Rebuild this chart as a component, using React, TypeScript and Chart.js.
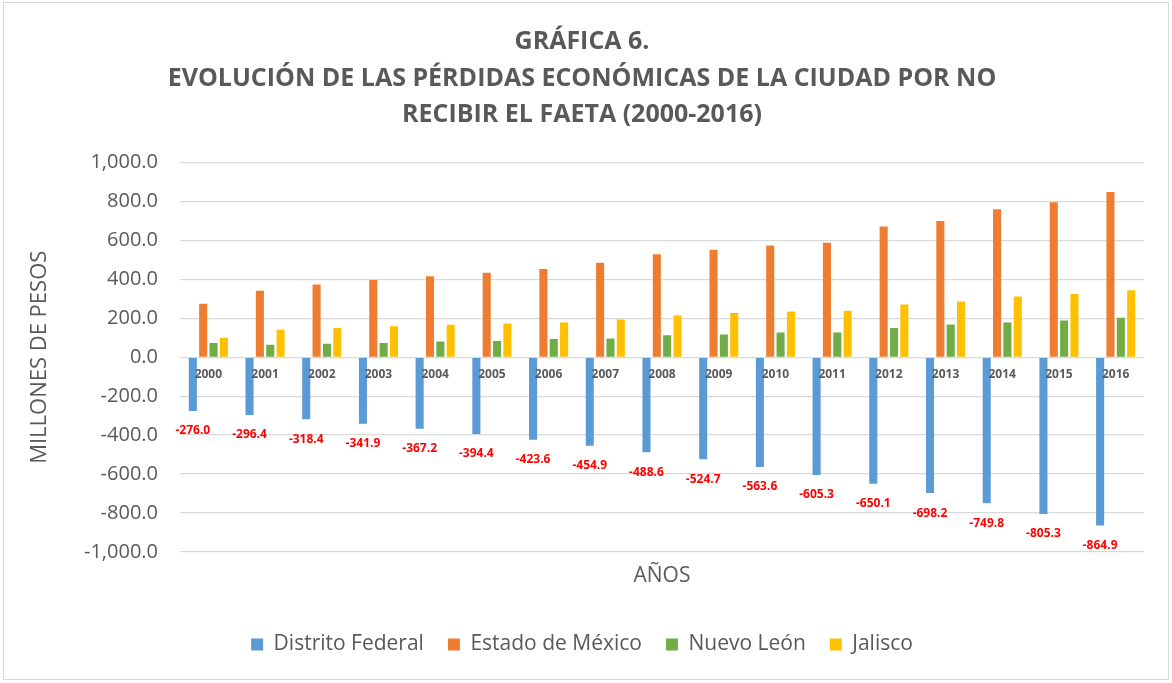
import React, { useEffect, useRef } from "react";
import { Chart, registerables } from "chart.js";

Chart.register(...registerables);

const years = ["2000","2001","2002","2003","2004","2005","2006","2007","2008","2009","2010","2011","2012","2013","2014","2015","2016"];
const distritoFederal = [-276.0,-296.4,-318.4,-341.9,-367.2,-394.4,-423.6,-454.9,-488.6,-524.7,-563.6,-605.3,-650.1,-698.2,-749.8,-805.3,-864.9];
const estadoDeMexico = [275,342,374,397,417,435,454,486,529,553,575,589,672,701,761,797,849];
const nuevoLeon = [74,64,70,74,81,84,94,96,113,117,127,127,150,168,179,189,203];
const jalisco = [100,141,150,160,167,174,179,194,215,228,235,239,271,287,313,325,344];

const seriesNames = ["Distrito Federal", "Estado de México", "Nuevo León", "Jalisco"];
const seriesColors = ["#5B9BD5", "#ED7D31", "#70AD47", "#FFC000"];
const titleLines = ["GRÁFICA 6.", "EVOLUCIÓN DE LAS PÉRDIDAS ECONÓMICAS DE LA CIUDAD POR NO", "RECIBIR EL FAETA (2000-2016)"];

const FONT = "'Open Sans', sans-serif";
const GRAY = "#595959";

const fmt = (v: number) =>
  v.toLocaleString("en-US", { minimumFractionDigits: 1, maximumFractionDigits: 1 });

const framePlugin = {
  id: "frame",
  beforeDraw(chart: any) {
    const { ctx, width, height } = chart;
    ctx.save();
    ctx.fillStyle = "#ffffff";
    ctx.fillRect(0, 0, width, height);
    ctx.strokeStyle = "#d9d9d9";
    ctx.lineWidth = 1;
    ctx.strokeRect(3.5, 2.5, width - 7, height - 6);
    ctx.restore();
  },
};

const labelsPlugin = {
  id: "customLabels",
  afterDatasetsDraw(chart: any) {
    const { ctx } = chart;
    const xs = chart.scales.x;
    const ys = chart.scales.y;
    const zeroY = ys.getPixelForValue(0);
    ctx.save();
    ctx.textAlign = "center";
    ctx.textBaseline = "middle";
    ctx.font = `bold 12px ${FONT}`;
    ctx.fillStyle = GRAY;
    years.forEach((y, i) => {
      ctx.fillText(y, xs.getPixelForValue(i), zeroY + 17);
    });
    const meta = chart.getDatasetMeta(0);
    ctx.fillStyle = "#FF0000";
    meta.data.forEach((bar: any, i: number) => {
      ctx.fillText(distritoFederal[i].toFixed(1), bar.x, bar.y + 20);
    });
    ctx.restore();
  },
};

export default function App() {
  const ref = useRef<HTMLCanvasElement>(null);
  useEffect(() => {
    if (!ref.current) return;
    const data = [distritoFederal, estadoDeMexico, nuevoLeon, jalisco];
    const chart = new Chart(ref.current, {
      type: "bar",
      data: {
        labels: years,
        datasets: data.map((d, k) => ({
          label: seriesNames[k],
          data: d,
          backgroundColor: seriesColors[k],
          categoryPercentage: 0.73,
          barPercentage: 0.78,
        })),
      },
      options: {
        animation: false,
        responsive: false,
        layout: { padding: { left: 20, right: 28, top: 0, bottom: 18 } },
        plugins: {
          tooltip: { enabled: false },
          title: {
            display: true,
            text: titleLines,
            color: GRAY,
            font: { family: FONT, size: 25, weight: "bold", lineHeight: 1.45 },
            padding: { top: 24, bottom: 30 },
          },
          legend: {
            position: "bottom",
            labels: {
              color: GRAY,
              font: { family: FONT, size: 21 },
              boxWidth: 12,
              boxHeight: 12,
              padding: 24,
            },
          },
        },
        scales: {
          x: {
            grid: { display: false },
            border: { display: false },
            ticks: { display: false },
            title: {
              display: true,
              text: "AÑOS",
              color: GRAY,
              font: { family: FONT, size: 21 },
              padding: { top: 4, bottom: 21 },
            },
          },
          y: {
            min: -1000,
            max: 1000,
            border: { display: false },
            grid: { color: "#d9d9d9", lineWidth: 1.3, drawTicks: false },
            ticks: {
              stepSize: 200,
              color: GRAY,
              padding: 22,
              font: { family: FONT, size: 20 },
              callback: (v: any) => fmt(Number(v)),
            },
            title: {
              display: true,
              text: "MILLONES DE PESOS",
              color: GRAY,
              font: { family: FONT, size: 22 },
              padding: { top: 7, bottom: 0 },
            },
            afterFit: (scale: any) => {
              scale.width = 160;
            },
          },
        },
      },
      plugins: [framePlugin, labelsPlugin],
    } as any);
    return () => chart.destroy();
  }, []);
  return (
    <div style={{ position: "fixed", left: 0, top: 0, width: 1172, height: 683 }}>
      <canvas ref={ref} width={1172} height={683} style={{ display: "block" }} />
    </div>
  );
}
